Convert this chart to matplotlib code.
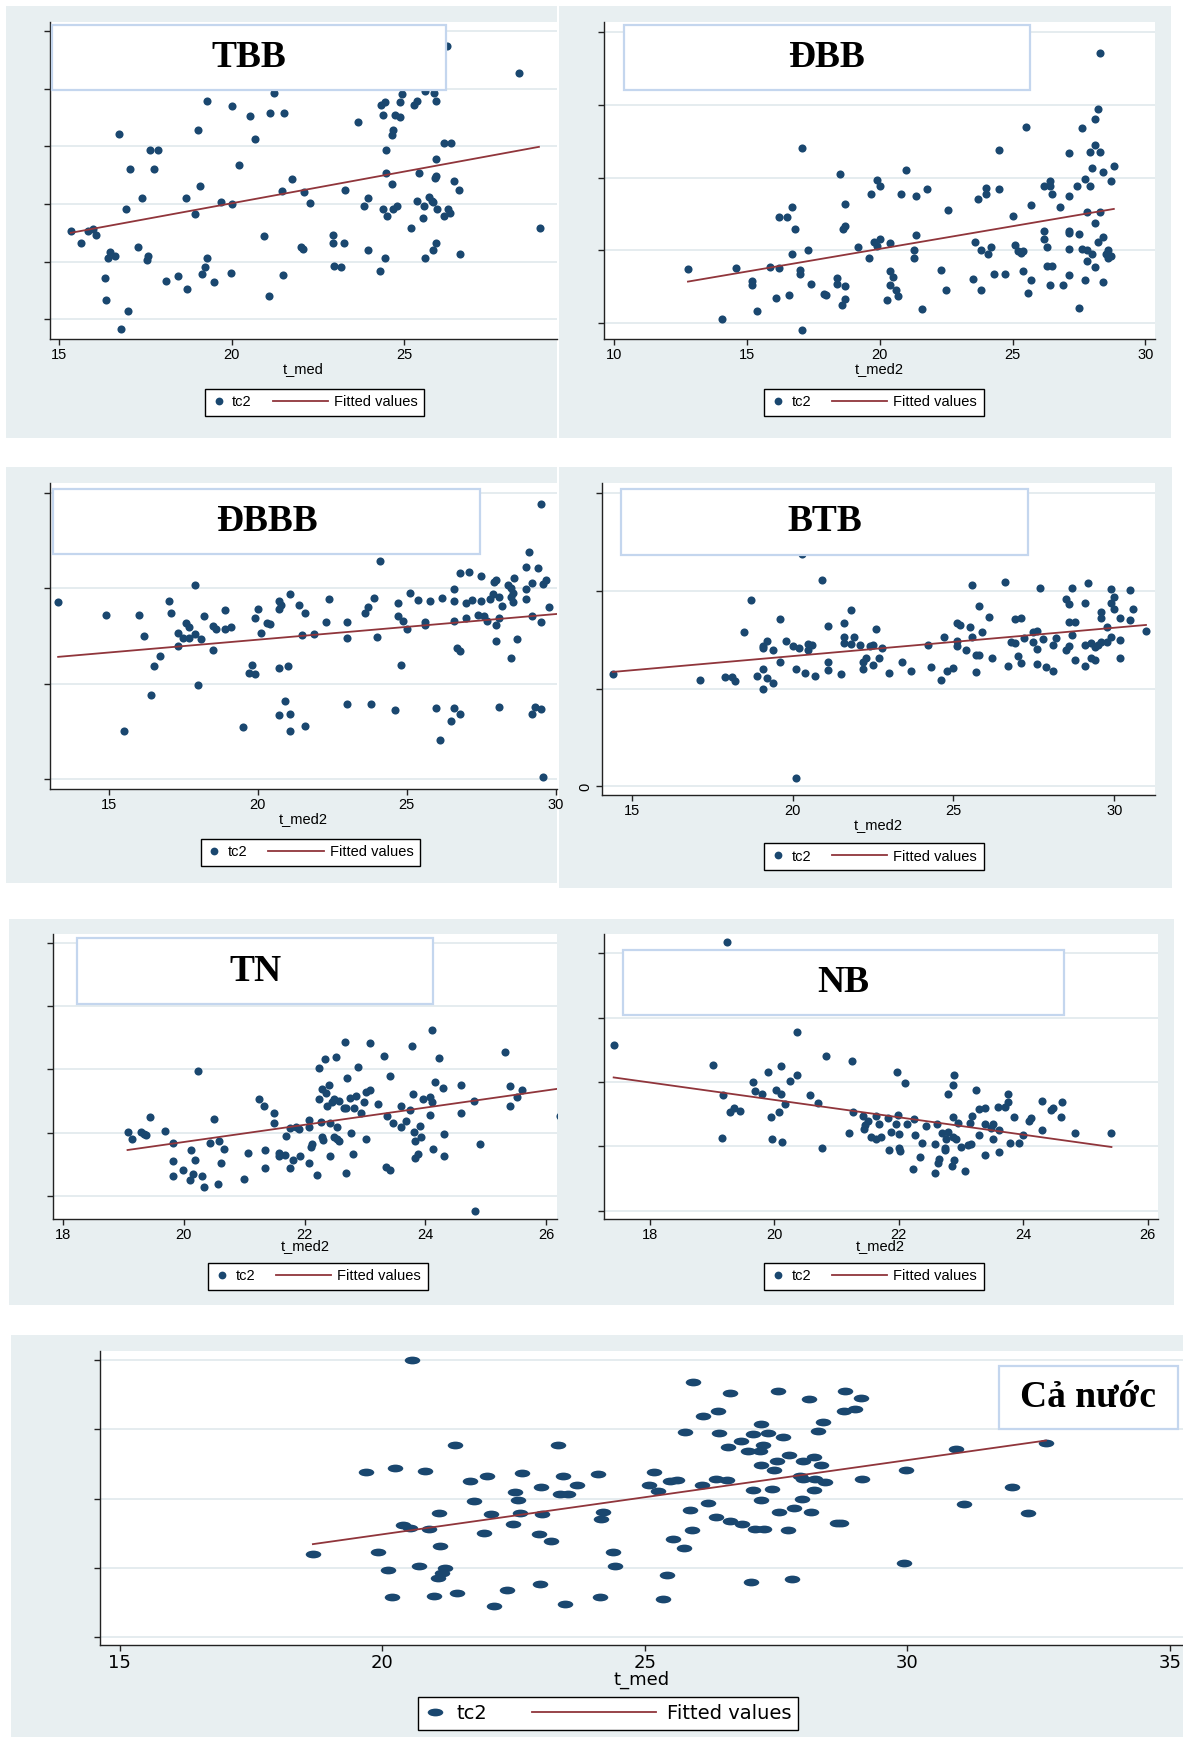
import numpy as np
import matplotlib.pyplot as plt
from matplotlib.lines import Line2D
from matplotlib.patches import Rectangle
from matplotlib.path import Path
from matplotlib.transforms import Affine2D
from matplotlib.legend_handler import HandlerLine2D

W, H = 1183, 1737
NAVY = "#1a476f"
MAROON = "#90353b"
REGION = "#e8eff1"
GRID = "#e3ebee"
BOX_EDGE = "#c4d6ee"
SANS = "Liberation Sans"
SERIF = ["Liberation Serif", "DejaVu Serif"]

plt.rcParams["font.family"] = [SANS, "DejaVu Sans"]

# (t_med, tc2) pairs for each region
tbb_pts = [
    (15.33, 1.54), (15.63, 1.33), (15.83, 1.53), (15.96, 1.56), (16.07, 1.46), (16.72, 3.21),
    (16.33, 0.71), (16.36, 0.33), (16.42, 1.06), (16.47, 1.17), (16.60, 1.09), (16.80, -0.17),
    (16.93, 1.92), (16.99, 0.14), (17.06, 2.61), (17.29, 1.25), (17.39, 2.11), (17.53, 1.03),
    (17.57, 1.09), (17.62, 2.93), (17.75, 2.61), (17.86, 2.93), (18.10, 0.67), (18.43, 0.76),
    (18.67, 2.11), (18.69, 0.52), (18.94, 1.82), (19.03, 3.29), (19.07, 2.32), (19.13, 0.78),
    (19.23, 0.90), (19.28, 1.07), (19.29, 3.79), (19.48, 0.64), (19.70, 2.03), (19.97, 0.80),
    (20.02, 3.69), (20.02, 2.00), (20.20, 2.68), (20.54, 3.52), (20.67, 3.13), (20.94, 1.45),
    (21.09, 0.40), (21.11, 3.58), (21.22, 3.93), (21.47, 2.23), (21.48, 0.77), (21.52, 3.58),
    (21.75, 2.44), (22.02, 1.26), (22.08, 1.22), (22.10, 2.20), (22.28, 2.01), (22.93, 1.46),
    (22.95, 1.33), (22.96, 0.92), (23.16, 0.90), (23.26, 1.33), (23.29, 2.24), (23.68, 3.42),
    (23.85, 1.97), (23.96, 1.21), (23.96, 2.10), (24.32, 0.83), (24.33, 3.71), (24.39, 3.55),
    (24.39, 1.92), (24.44, 3.77), (24.44, 1.06), (24.49, 2.94), (24.49, 2.54), (24.51, 1.80),
    (24.64, 3.19), (24.66, 2.34), (24.68, 1.91), (24.69, 3.28), (24.73, 3.55), (24.79, 1.97),
    (24.88, 3.50), (24.90, 3.77), (24.94, 3.91), (25.21, 1.58), (25.28, 3.71), (25.38, 3.79),
    (25.39, 2.05), (25.45, 2.54), (25.56, 1.75), (25.59, 1.97), (25.60, 3.96), (25.61, 1.06),
    (25.73, 2.12), (25.82, 2.06), (25.84, 2.03), (25.84, 1.20), (25.86, 3.93), (25.90, 2.45),
    (25.92, 3.78), (25.93, 2.49), (25.94, 2.78), (25.94, 1.33), (25.96, 1.92), (26.15, 1.80),
    (26.16, 3.06), (26.27, 1.92), (26.34, 1.84), (26.37, 3.06), (26.45, 2.40), (26.59, 2.25),
    (26.63, 1.14), (28.33, 4.27), (28.94, 1.58), (26.24, 4.74),
]
tbb_fit_x = [15.33, 28.92]
tbb_fit_y = [1.50, 2.99]

dbb_pts = [
    (12.79, 0.75), (14.08, 0.05), (14.60, 0.76), (15.18, 0.58), (15.18, 0.52), (15.38, 0.16),
    (15.89, 0.77), (16.09, 0.35), (16.20, 1.46), (16.20, 0.76), (16.50, 1.46), (16.60, 0.38),
    (16.71, 1.60), (16.71, 0.95), (16.80, 1.30), (16.99, 0.73), (16.99, 0.67), (17.08, 2.41),
    (17.08, -0.09), (17.29, 1.00), (17.40, 0.54), (17.90, 0.40), (18.00, 0.38), (18.38, 0.62),
    (18.38, 0.54), (18.50, 2.05), (18.59, 0.25), (18.61, 1.30), (18.70, 1.33), (18.71, 1.64),
    (18.71, 0.51), (18.71, 0.33), (19.19, 1.05), (19.60, 0.90), (19.69, 1.78), (19.78, 1.11),
    (19.89, 1.97), (19.89, 1.06), (20.00, 1.89), (20.00, 1.16), (20.29, 0.32), (20.40, 1.10),
    (20.40, 0.72), (20.40, 0.52), (20.49, 0.63), (20.60, 0.45), (20.69, 0.37), (20.79, 1.78),
    (21.00, 2.11), (21.29, 1.01), (21.29, 0.89), (21.38, 1.75), (21.38, 1.21), (21.59, 0.19),
    (21.80, 1.84), (22.30, 0.73), (22.51, 0.45), (22.58, 1.56), (23.50, 0.60), (23.59, 1.11),
    (23.70, 1.71), (23.81, 1.00), (23.81, 0.45), (24.00, 1.86), (24.00, 1.78), (24.09, 0.95),
    (24.20, 1.04), (24.30, 0.67), (24.50, 2.38), (24.50, 1.85), (24.71, 0.67), (25.00, 1.47),
    (25.10, 1.08), (25.19, 0.99), (25.30, 0.96), (25.40, 0.99), (25.40, 0.71), (25.49, 2.70),
    (25.60, 0.41), (25.69, 1.63), (25.69, 0.59), (26.19, 1.88), (26.19, 1.26), (26.19, 1.16),
    (26.29, 1.05), (26.29, 0.79), (26.40, 1.96), (26.40, 1.88), (26.40, 0.52), (26.50, 1.78),
    (26.50, 0.79), (26.80, 1.60), (26.90, 0.52), (27.11, 2.34), (27.11, 1.75), (27.11, 1.26),
    (27.11, 1.24), (27.11, 1.02), (27.11, 0.66), (27.41, 1.89), (27.50, 1.22), (27.50, 0.20),
    (27.60, 2.68), (27.60, 1.02), (27.71, 1.98), (27.71, 0.59), (27.80, 1.53), (27.80, 1.00),
    (27.80, 0.86), (27.90, 2.36), (27.90, 1.89), (28.00, 2.13), (28.00, 0.95), (28.10, 2.81),
    (28.10, 2.45), (28.10, 1.38), (28.10, 0.77), (28.21, 2.94), (28.21, 1.12), (28.30, 3.72),
    (28.30, 2.36), (28.30, 1.53), (28.40, 2.08), (28.40, 1.19), (28.40, 0.56), (28.51, 0.95),
    (28.60, 1.01), (28.60, 0.89), (28.70, 1.96), (28.70, 0.92), (28.81, 2.16),
]
dbb_fit_x = [12.79, 28.81]
dbb_fit_y = [0.57, 1.57]

dbbb_pts = [
    (13.30, 1.85), (14.89, 1.72), (15.50, 0.50), (16.00, 1.72), (16.19, 1.50), (16.40, 0.88),
    (16.51, 1.18), (16.71, 1.29), (17.01, 1.86), (17.10, 1.74), (17.31, 1.53), (17.31, 1.39),
    (17.50, 1.48), (17.60, 1.63), (17.70, 1.59), (17.70, 1.48), (17.90, 2.03), (17.90, 1.52),
    (18.00, 0.99), (18.09, 1.47), (18.20, 1.71), (18.50, 1.60), (18.50, 1.35), (18.60, 1.57),
    (18.89, 1.77), (18.89, 1.57), (19.10, 1.59), (19.50, 0.55), (19.71, 1.11), (19.80, 1.20),
    (19.90, 1.10), (19.90, 1.69), (20.01, 1.78), (20.10, 1.53), (20.30, 1.63), (20.40, 1.62),
    (20.70, 1.86), (20.70, 1.78), (20.70, 1.16), (20.70, 0.67), (20.79, 1.82), (20.90, 0.82),
    (21.00, 1.18), (21.09, 1.94), (21.09, 0.68), (21.09, 0.50), (21.39, 1.82), (21.50, 1.51),
    (21.60, 1.74), (21.60, 0.56), (21.89, 1.52), (22.29, 1.65), (22.40, 1.89), (22.99, 1.64),
    (22.99, 1.48), (22.99, 0.79), (23.59, 1.74), (23.69, 1.80), (23.81, 0.79), (23.89, 1.90),
    (24.00, 1.49), (24.09, 2.28), (24.59, 0.72), (24.69, 1.84), (24.69, 1.71), (24.80, 1.20),
    (24.89, 1.66), (25.00, 1.57), (25.10, 1.95), (25.39, 1.88), (25.60, 1.64), (25.60, 1.61),
    (25.79, 1.86), (25.99, 0.74), (26.10, 0.41), (26.19, 1.90), (26.49, 0.61), (26.59, 1.99),
    (26.59, 1.86), (26.59, 1.66), (26.59, 0.74), (26.70, 1.37), (26.79, 2.16), (26.79, 1.34),
    (26.79, 0.68), (26.99, 1.84), (26.99, 1.69), (27.09, 2.17), (27.20, 1.88), (27.39, 1.72),
    (27.49, 2.13), (27.50, 1.86), (27.59, 1.71), (27.69, 1.66), (27.80, 1.89), (27.89, 1.94),
    (27.92, 2.06), (27.99, 1.61), (27.99, 1.45), (28.01, 2.08), (28.09, 1.69), (28.09, 0.76),
    (28.09, 1.91), (28.19, 1.81), (28.39, 2.03), (28.49, 2.00), (28.49, 1.91), (28.50, 1.27),
    (28.58, 1.95), (28.58, 1.85), (28.61, 2.11), (28.69, 1.47), (28.99, 2.22), (28.99, 1.99),
    (28.99, 1.89), (29.10, 2.38), (29.19, 2.05), (29.21, 1.71), (29.21, 0.68), (29.29, 0.76),
    (29.40, 2.21), (29.49, 2.88), (29.49, 1.64), (29.49, 0.73), (29.59, 2.04), (29.59, 0.02),
    (29.68, 2.08), (29.79, 1.80),
]
dbbb_fit_x = [13.30, 30.07]
dbbb_fit_y = [1.28, 1.73]

btb_pts = [
    (14.40, 1.15), (17.11, 1.09), (17.89, 1.12), (18.10, 1.12), (18.20, 1.08), (18.48, 1.58),
    (18.69, 1.91), (18.89, 1.13), (19.09, 1.43), (19.09, 1.41), (19.09, 1.20), (19.09, 1.00),
    (19.19, 1.49), (19.19, 1.11), (19.39, 1.39), (19.39, 1.06), (19.59, 1.71), (19.59, 1.27),
    (19.79, 1.49), (20.00, 1.44), (20.09, 0.09), (20.09, 1.20), (20.19, 1.41), (20.29, 2.37),
    (20.39, 1.16), (20.49, 1.46), (20.49, 1.39), (20.59, 1.45), (20.69, 1.13), (20.90, 2.11),
    (21.10, 1.64), (21.10, 1.27), (21.10, 1.19), (21.50, 1.15), (21.60, 1.67), (21.60, 1.53),
    (21.60, 1.47), (21.80, 1.80), (21.80, 1.46), (21.90, 1.53), (22.09, 1.45), (22.19, 1.27),
    (22.19, 1.20), (22.29, 1.31), (22.39, 1.43), (22.49, 1.45), (22.49, 1.24), (22.59, 1.61),
    (22.69, 1.31), (22.79, 1.41), (22.99, 1.16), (23.39, 1.27), (23.69, 1.18), (24.20, 1.45),
    (24.29, 1.22), (24.60, 1.09), (24.70, 1.53), (24.80, 1.18), (25.00, 1.21), (25.10, 1.67),
    (25.10, 1.49), (25.10, 1.43), (25.20, 1.65), (25.40, 1.39), (25.50, 1.63), (25.59, 1.53),
    (25.59, 2.06), (25.69, 1.34), (25.69, 1.17), (25.80, 1.84), (25.80, 1.34), (25.90, 1.58),
    (26.10, 1.73), (26.20, 1.31), (26.60, 2.09), (26.70, 1.23), (26.80, 1.48), (26.90, 1.71),
    (26.90, 1.47), (27.00, 1.33), (27.09, 1.72), (27.09, 1.26), (27.19, 1.52), (27.49, 1.58),
    (27.49, 1.48), (27.59, 1.59), (27.59, 1.40), (27.59, 1.25), (27.69, 2.03), (27.79, 1.51),
    (27.89, 1.22), (28.09, 1.45), (28.09, 1.18), (28.19, 1.52), (28.49, 1.39), (28.49, 1.92),
    (28.59, 1.86), (28.59, 1.68), (28.59, 1.43), (28.69, 2.03), (28.69, 1.55), (28.79, 1.68),
    (28.79, 1.29), (29.09, 1.87), (29.09, 1.45), (29.09, 1.23), (29.19, 2.08), (29.29, 1.47),
    (29.29, 1.31), (29.39, 1.42), (29.39, 1.29), (29.49, 1.45), (29.59, 1.78), (29.59, 1.72),
    (29.59, 1.48), (29.79, 1.63), (29.79, 1.48), (29.89, 2.02), (29.89, 1.87), (29.89, 1.53),
    (29.99, 1.94), (29.99, 1.81), (30.19, 1.72), (30.19, 1.50), (30.19, 1.31), (30.49, 2.01),
    (30.49, 1.70), (30.59, 1.81), (30.99, 1.59),
]
btb_fit_x = [14.40, 30.99]
btb_fit_y = [1.17, 1.65]

tn_pts = [
    (19.07, 1.01), (19.15, 0.90), (19.30, 1.02), (19.34, 0.99), (19.37, 0.97), (19.45, 1.25),
    (19.69, 1.03), (19.83, 0.84), (19.83, 0.56), (19.83, 0.32), (19.99, 0.42), (20.10, 0.25),
    (20.12, 0.73), (20.15, 0.35), (20.18, 0.58), (20.24, 1.97), (20.30, 0.32), (20.34, 0.14),
    (20.43, 0.84), (20.50, 1.22), (20.56, 0.19), (20.59, 0.88), (20.62, 0.53), (20.66, 0.75),
    (20.99, 0.28), (21.07, 0.69), (21.24, 1.53), (21.33, 1.43), (21.34, 0.73), (21.34, 0.45),
    (21.50, 1.32), (21.50, 1.16), (21.58, 0.69), (21.58, 0.64), (21.68, 0.65), (21.70, 0.95),
    (21.76, 1.07), (21.76, 0.44), (21.80, 0.57), (21.86, 1.09), (21.91, 1.06), (21.93, 0.64),
    (22.07, 1.20), (22.08, 1.09), (22.08, 0.53), (22.10, 0.77), (22.13, 0.82), (22.20, 0.33),
    (22.24, 2.03), (22.24, 1.54), (22.27, 1.17), (22.29, 1.70), (22.29, 0.94), (22.30, 0.89),
    (22.33, 2.17), (22.36, 1.63), (22.37, 1.43), (22.40, 1.76), (22.42, 1.15), (22.42, 0.63),
    (22.46, 1.48), (22.49, 1.53), (22.49, 0.94), (22.52, 2.20), (22.53, 1.10), (22.54, 0.90),
    (22.57, 1.51), (22.57, 0.87), (22.65, 1.39), (22.67, 2.43), (22.68, 1.39), (22.69, 0.36),
    (22.70, 1.86), (22.75, 1.55), (22.76, 1.00), (22.80, 0.66), (22.82, 1.40), (22.85, 1.58),
    (22.88, 2.04), (22.93, 1.32), (22.99, 1.48), (23.02, 0.90), (23.02, 1.65), (23.08, 2.41),
    (23.08, 1.67), (23.22, 1.45), (23.32, 2.22), (23.34, 0.46), (23.37, 1.26), (23.41, 0.42),
    (23.42, 1.89), (23.46, 1.15), (23.59, 1.42), (23.60, 1.09), (23.67, 1.19), (23.75, 1.36),
    (23.78, 2.37), (23.79, 1.61), (23.81, 1.02), (23.82, 0.88), (23.82, 0.60), (23.88, 0.66),
    (23.91, 1.11), (23.92, 0.93), (23.96, 1.53), (24.08, 1.57), (24.08, 1.28), (24.10, 1.49),
    (24.10, 2.62), (24.13, 0.75), (24.15, 1.80), (24.22, 2.18), (24.29, 1.71), (24.30, 0.99),
    (24.30, 0.64), (24.59, 1.75), (24.59, 1.32), (24.80, 1.50), (24.82, -0.23), (24.91, 0.82),
    (25.31, 2.27), (25.40, 1.74), (25.40, 1.43), (25.52, 1.57), (25.60, 1.68), (26.22, 1.26),
]
tn_fit_x = [19.07, 26.22]
tn_fit_y = [0.73, 1.70]

nb_pts = [
    (17.42, 2.57), (19.02, 2.27), (19.17, 1.79), (19.16, 1.13), (19.29, 1.53), (19.36, 1.60),
    (19.45, 1.55), (19.66, 2.00), (19.69, 1.86), (19.81, 1.82), (19.90, 2.15), (19.95, 1.45),
    (19.97, 1.12), (20.03, 1.88), (20.08, 1.54), (20.11, 2.25), (20.11, 1.81), (20.13, 1.06),
    (20.17, 1.66), (20.26, 2.01), (20.37, 2.11), (20.37, 2.78), (19.24, 4.17), (20.58, 1.79),
    (20.71, 1.67), (20.77, 0.97), (20.83, 2.41), (21.20, 1.20), (21.25, 2.32), (21.26, 1.53),
    (21.42, 1.47), (21.44, 1.27), (21.46, 1.33), (21.50, 1.39), (21.56, 1.15), (21.64, 1.12),
    (21.64, 1.47), (21.68, 1.34), (21.71, 1.15), (21.83, 1.44), (21.84, 0.95), (21.87, 1.23),
    (21.95, 1.34), (21.97, 2.15), (21.99, 1.49), (22.00, 0.97), (22.01, 1.19), (22.02, 0.93),
    (22.11, 1.98), (22.13, 1.35), (22.23, 0.65), (22.24, 1.42), (22.26, 1.17), (22.34, 0.84),
    (22.38, 1.05), (22.44, 1.31), (22.58, 1.04), (22.58, 0.58), (22.62, 1.35), (22.64, 0.74),
    (22.65, 0.81), (22.69, 1.21), (22.74, 0.97), (22.75, 0.94), (22.76, 1.12), (22.79, 1.22),
    (22.80, 1.81), (22.85, 0.69), (22.87, 1.96), (22.87, 1.14), (22.87, 1.46), (22.89, 2.11),
    (22.89, 0.79), (22.92, 1.11), (22.95, 1.37), (23.00, 0.99), (23.07, 0.61), (23.12, 1.02),
    (23.15, 1.37), (23.16, 1.04), (23.18, 1.47), (23.25, 1.87), (23.29, 1.17), (23.29, 1.58),
    (23.38, 1.59), (23.38, 1.34), (23.39, 0.87), (23.49, 1.28), (23.51, 1.35), (23.52, 1.11),
    (23.60, 1.61), (23.61, 1.26), (23.61, 0.92), (23.71, 1.61), (23.75, 1.81), (23.76, 1.69),
    (23.79, 1.05), (23.85, 1.45), (23.94, 1.05), (24.00, 1.17), (24.10, 1.39), (24.12, 1.44),
    (24.30, 1.70), (24.30, 1.25), (24.45, 1.56), (24.48, 1.59), (24.61, 1.45), (24.62, 1.69),
    (24.84, 1.21), (25.42, 1.20),
]
nb_fit_x = [17.42, 25.42]
nb_fit_y = [2.07, 0.99]

cn_pts = [
    (18.68, 1.20), (19.69, 2.39), (19.92, 1.23), (20.11, 0.97), (20.19, 0.57), (20.25, 2.44),
    (20.40, 1.61), (20.53, 1.57), (20.57, 4.00), (20.70, 1.03), (20.82, 2.40), (20.90, 1.56),
    (20.98, 0.59), (21.06, 0.85), (21.09, 1.79), (21.11, 1.31), (21.14, 0.92), (21.19, 0.99),
    (21.38, 2.77), (21.43, 0.63), (21.68, 2.26), (21.75, 1.97), (21.94, 1.50), (21.99, 2.32),
    (22.07, 1.77), (22.13, 0.44), (22.37, 0.68), (22.50, 1.63), (22.53, 2.09), (22.59, 1.98),
    (22.62, 1.79), (22.66, 2.37), (22.98, 1.49), (23.01, 0.76), (23.02, 2.17), (23.04, 1.77),
    (23.21, 1.38), (23.35, 2.78), (23.38, 2.06), (23.44, 2.32), (23.49, 0.48), (23.53, 2.06),
    (23.71, 2.19), (24.10, 2.35), (24.21, 1.80), (24.16, 1.70), (24.14, 0.57), (24.39, 1.23),
    (24.44, 1.02), (25.08, 2.20), (25.18, 2.39), (25.26, 2.11), (25.35, 0.54), (25.43, 0.90),
    (25.48, 2.26), (25.54, 1.42), (25.61, 2.27), (25.74, 1.29), (25.76, 2.97), (25.86, 1.84),
    (25.90, 1.54), (25.92, 3.69), (26.09, 2.19), (26.10, 3.19), (26.20, 1.94), (26.35, 1.73),
    (26.36, 2.29), (26.39, 3.27), (26.41, 2.95), (26.57, 2.27), (26.58, 2.74), (26.62, 3.53),
    (26.62, 1.68), (26.83, 2.83), (26.85, 1.63), (26.97, 2.69), (27.02, 0.79), (27.06, 2.93),
    (27.06, 2.12), (27.09, 1.56), (27.19, 2.69), (27.21, 2.49), (27.22, 3.08), (27.22, 1.98),
    (27.26, 2.77), (27.27, 1.56), (27.35, 2.95), (27.42, 2.14), (27.47, 2.41), (27.52, 2.55),
    (27.53, 3.55), (27.55, 1.81), (27.63, 2.89), (27.73, 1.54), (27.74, 2.63), (27.81, 0.84),
    (27.84, 1.87), (27.96, 2.33), (28.00, 1.99), (28.01, 2.54), (28.02, 2.29), (28.12, 3.44),
    (28.17, 1.81), (28.22, 2.60), (28.23, 2.13), (28.25, 2.28), (28.30, 2.98), (28.35, 2.48),
    (28.39, 3.11), (28.44, 2.24), (28.67, 1.65), (28.74, 1.64), (28.79, 3.27), (28.81, 3.56),
    (29.00, 3.30), (29.11, 3.45), (29.13, 2.28), (29.94, 1.06), (29.97, 2.41), (30.92, 2.72),
    (31.07, 1.92), (31.99, 2.16), (32.29, 1.79), (32.64, 2.81),
]
cn_fit_x = [18.68, 32.64]
cn_fit_y = [1.34, 2.84]

ELLIPSE = Path.unit_circle().transformed(Affine2D().scale(1.0, 0.5))


def fig_rect(x0, y0, x1, y1):
    return [x0 / W, 1 - y1 / H, (x1 - x0) / W, (y1 - y0) / H]


def region(fig, x0, y0, x1, y1):
    fig.add_artist(Rectangle((x0 / W, 1 - y1 / H), (x1 - x0) / W, (y1 - y0) / H,
                             transform=fig.transFigure, facecolor=REGION,
                             edgecolor="none", zorder=0))


def panel(fig, ax_px, pts, fit_x, fit_y, xlim, ylim, xticks, nticks, xlabel,
          title, box, leg_xy, marker="o", s=34, ms=5.6, fs=10.5, family=SANS,
          leg_fs=None, ylabels=None, labelpad=0, leg_opts=None, line_pad=-2.8):
    ax = fig.add_axes(fig_rect(*ax_px))
    ax.set_facecolor("white")
    pts = np.array(pts)
    ax.scatter(pts[:, 0], pts[:, 1], s=s, marker=marker, color=NAVY,
               linewidths=0, zorder=2)
    ax.plot(fit_x, fit_y, color=MAROON, lw=1.3, zorder=3)

    ax.set_xlim(*xlim)
    ax.set_ylim(*ylim)
    ax.set_xticks(xticks)
    ax.set_xticklabels([str(t) for t in xticks], fontsize=fs, family=family)
    ax.set_yticks(range(nticks))
    if ylabels is None:
        ax.set_yticklabels([""] * nticks)
    else:
        ax.set_yticklabels(ylabels, rotation=90, va="center", fontsize=fs, family=family)
    ax.grid(axis="y", color=GRID, lw=1.3)
    ax.set_axisbelow(True)
    for side in ("top", "right"):
        ax.spines[side].set_visible(False)
    for side in ("left", "bottom"):
        ax.spines[side].set_color("#222222")
        ax.spines[side].set_linewidth(1.0)
    ax.tick_params(direction="out", length=4, width=1.0, color="#222222", pad=2.5)
    ax.set_xlabel(xlabel, fontsize=fs, family=family, labelpad=labelpad)

    # region name in a boxed label laid over the plot
    bx0, by0, bx1, by1 = box
    ax.add_patch(Rectangle((bx0, by0), bx1 - bx0, by1 - by0, transform=ax.transAxes,
                           facecolor="white", edgecolor=BOX_EDGE, lw=1.6, zorder=5))
    ax.text((bx0 + bx1) / 2, (by0 + by1) / 2, title, transform=ax.transAxes,
            ha="center", va="center", fontsize=27, fontweight="bold",
            family=SERIF, zorder=6)

    dot = Line2D([], [], ls="none", marker=marker, ms=ms, color=NAVY, mew=0)
    fit = Line2D([], [], color=MAROON, lw=1.3)
    opts = dict(handlelength=1.0, handletextpad=0.4, columnspacing=4.25, borderpad=0.45)
    if leg_opts:
        opts.update(leg_opts)
    leg = ax.legend([dot, fit], ["tc2", "Fitted values"], ncol=2, loc="upper left",
                    bbox_to_anchor=(leg_xy[0] / W, 1 - leg_xy[1] / H),
                    bbox_transform=fig.transFigure, borderaxespad=0, frameon=True,
                    fancybox=False, edgecolor="black", framealpha=1,
                    prop={"family": family, "size": leg_fs or fs},
                    handler_map={fit: HandlerLine2D(xpad=line_pad)}, **opts)
    leg.get_frame().set_linewidth(1.0)
    return ax


fig = plt.figure(figsize=(W / 100, H / 100), dpi=100)

region(fig, 5.5, 5.5, 557.2, 437.5)
region(fig, 559.4, 5.5, 1170.8, 437.5)
region(fig, 5.5, 467.5, 557.2, 882.8)
region(fig, 559.4, 467.5, 1172.0, 888.4)
region(fig, 8.9, 919.4, 559.4, 1304.9)
region(fig, 559.4, 919.4, 1174.2, 1304.9)
region(fig, 11.0, 1334.8, 1183.0, 1737.0)

panel(fig, (49.8, 22.2, 557.2, 339.0), tbb_pts, tbb_fit_x, tbb_fit_y,
      (14.72, 29.45), (-0.34, 5.15), [15, 20, 25], 6, "t_med", "TBB",
      (0.005, 0.786, 0.78, 0.992), (204.9, 388.8))

panel(fig, (603.7, 22.2, 1155.3, 339.0), dbb_pts, dbb_fit_x, dbb_fit_y,
      (9.62, 30.37), (-0.22, 4.14), [10, 15, 20, 25, 30], 5, "t_med2", "ĐBB",
      (0.036, 0.786, 0.772, 0.992), (764.3, 388.8))

panel(fig, (49.8, 483.0, 557.2, 788.7), dbbb_pts, dbbb_fit_x, dbbb_fit_y,
      (13.02, 30.05), (-0.10, 3.10), [15, 20, 25, 30], 4, "t_med2", "ĐBBB",
      (0.007, 0.768, 0.848, 0.980), (200.5, 838.5))

panel(fig, (601.5, 483.0, 1155.3, 795.3), btb_pts, btb_fit_x, btb_fit_y,
      (14.05, 31.28), (-0.09, 3.10), [15, 20, 25, 30], 4, "t_med2", "BTB",
      (0.036, 0.771, 0.771, 0.981), (764.3, 843.0), ylabels=["0", "", "", ""])

panel(fig, (53.2, 933.8, 557.2, 1218.5), tn_pts, tn_fit_x, tn_fit_y,
      (17.84, 26.18), (-0.35, 4.14), [18, 20, 22, 24, 26], 5, "t_med2", "TN",
      (0.048, 0.754, 0.753, 0.984), (208.3, 1262.8), labelpad=-2)

panel(fig, (603.7, 933.8, 1157.5, 1218.5), nb_pts, nb_fit_x, nb_fit_y,
      (17.26, 26.16), (-0.12, 4.30), [18, 20, 22, 24, 26], 5, "t_med2", "NB",
      (0.035, 0.715, 0.831, 0.944), (764.3, 1262.8), labelpad=-2)

panel(fig, (99.7, 1351.4, 1183.0, 1645.0), cn_pts, cn_fit_x, cn_fit_y,
      (14.62, 35.25), (-0.12, 4.13), [15, 20, 25, 30, 35], 5, "t_med", "Cả nước",
      (0.830, 0.734, 0.995, 0.951), (417.6, 1697.0), marker=ELLIPSE, s=125, ms=11.2,
      fs=13, leg_fs=14, family="DejaVu Sans", labelpad=-1,
      leg_opts=dict(handlelength=1.1, handletextpad=0.55, columnspacing=7.6, borderpad=0.35),
      line_pad=-5.3)

fig.savefig("out.png", dpi=100)
